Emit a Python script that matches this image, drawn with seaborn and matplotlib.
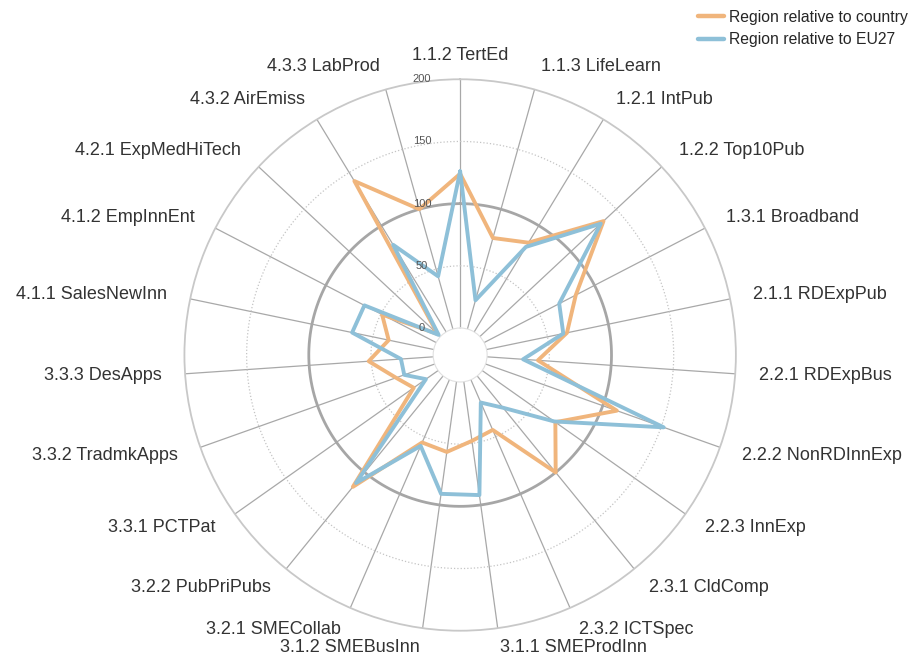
import matplotlib
matplotlib.use("Agg")
import numpy as np
import pandas as pd
import matplotlib.pyplot as plt
import seaborn as sns
from matplotlib.lines import Line2D
from matplotlib.transforms import offset_copy

# categories clockwise from the top
categories = [
    "1.1.2 TertEd", "1.1.3 LifeLearn", "1.2.1 IntPub", "1.2.2 Top10Pub",
    "1.3.1 Broadband", "2.1.1 RDExpPub", "2.2.1 RDExpBus", "2.2.2 NonRDInnExp",
    "2.2.3 InnExp", "2.3.1 CldComp", "2.3.2 ICTSpec", "3.1.1 SMEProdInn",
    "3.1.2 SMEBusInn", "3.2.1 SMECollab", "3.2.2 PubPriPubs", "3.3.1 PCTPat",
    "3.3.2 TradmkApps", "3.3.3 DesApps", "4.1.1 SalesNewInn", "4.1.2 EmpInnEnt",
    "4.2.1 ExpMedHiTech", "4.3.2 AirEmiss", "4.3.3 LabProd",
]
rel_country = [124, 76, 84, 136, 83, 66, 41, 112, 72, 100, 44, 48,
               57, 55, 115, 24, 33, 52, 37, 49, 3, 142, 100]
rel_eu27 = [126, 24, 80, 133, 68, 63, 29, 152, 71, 33, 20, 92,
            91, 58, 111, 12, 26, 26, 67, 65, 2, 82, 44]
series_names = ["Region relative to country", "Region relative to EU27"]
colors = ["#F0B57C", "#8EC0D8"]
r_ticks = [0, 50, 100, 150, 200]

sns.set_style("white")
plt.rcParams['font.family'] = ['Liberation Sans', 'DejaVu Sans']

n = len(categories)
angles = np.arange(n) * 2 * np.pi / n

rows = []
for name, vals in zip(series_names, [rel_country, rel_eu27]):
    closed_angles = list(angles) + [2 * np.pi]
    closed_vals = list(vals) + [vals[0]]
    for a, v in zip(closed_angles, closed_vals):
        rows.append({'angle': a, 'value': v, 'series': name})
df = pd.DataFrame(rows)

fig = plt.figure(figsize=(9.13, 6.58), dpi=100)
ax = fig.add_axes([0.202, 0.041, 0.604, 0.839], projection='polar')
ax.set_theta_zero_location('N')
ax.set_theta_direction(-1)

# grid
ax.set_xticks(angles)
ax.set_xticklabels([])
ax.set_yticks([])
ax.xaxis.grid(True, color='#a8a8a8', lw=0.9)
ax.set_axisbelow(True)
circ = np.linspace(0, 2 * np.pi, 400)
for r in [50, 150]:
    ax.plot(circ, np.full_like(circ, r), color='#c4c4c4', lw=0.9, ls=':', zorder=1)
ax.plot(circ, np.full_like(circ, 100), color='#a6a6a6', lw=2.0, zorder=1)
ax.spines['polar'].set_color('#c8c8c8')
ax.spines['polar'].set_linewidth(1.3)
ax.spines['inner'].set_color('#e0e0e0')
ax.spines['inner'].set_linewidth(0.8)

sns.lineplot(data=df, x='angle', y='value', hue='series', hue_order=series_names,
             palette=colors, sort=False, estimator=None, lw=2.8, ax=ax,
             legend=False, zorder=3)
ax.set_xlabel('')
ax.set_ylabel('')
ax.set_ylim(0, 200)
ax.set_rorigin(-21.7)

# category labels
for a, lab in zip(angles, categories):
    if np.isclose(a, 0):
        ha = 'center'
    elif a < np.pi:
        ha = 'left'
    else:
        ha = 'right'
    # the two bottom labels sit a little closer so they stay inside the figure
    rad = 216 if abs(a - np.pi) < 0.2 else 219
    ax.text(a, rad, lab, ha=ha, va='center', fontsize=13, color='#333333')

# radial tick labels
lab_tr = offset_copy(ax.transData, fig=fig, x=-38, y=0, units='dots')
for t in r_ticks:
    ax.text(0, t, str(t), transform=lab_tr, ha='center', va='center',
            fontsize=8, color='#555555', zorder=5)

handles = [Line2D([], [], color=c, lw=3.2) for c in colors]
fig.legend(handles, series_names, loc='upper left', bbox_to_anchor=(0.765, 0.985),
           frameon=False, fontsize=11.3, handlelength=1.6, handletextpad=0.35,
           labelspacing=0.48, borderpad=0, borderaxespad=0)

fig.savefig('out.png', dpi=100)
